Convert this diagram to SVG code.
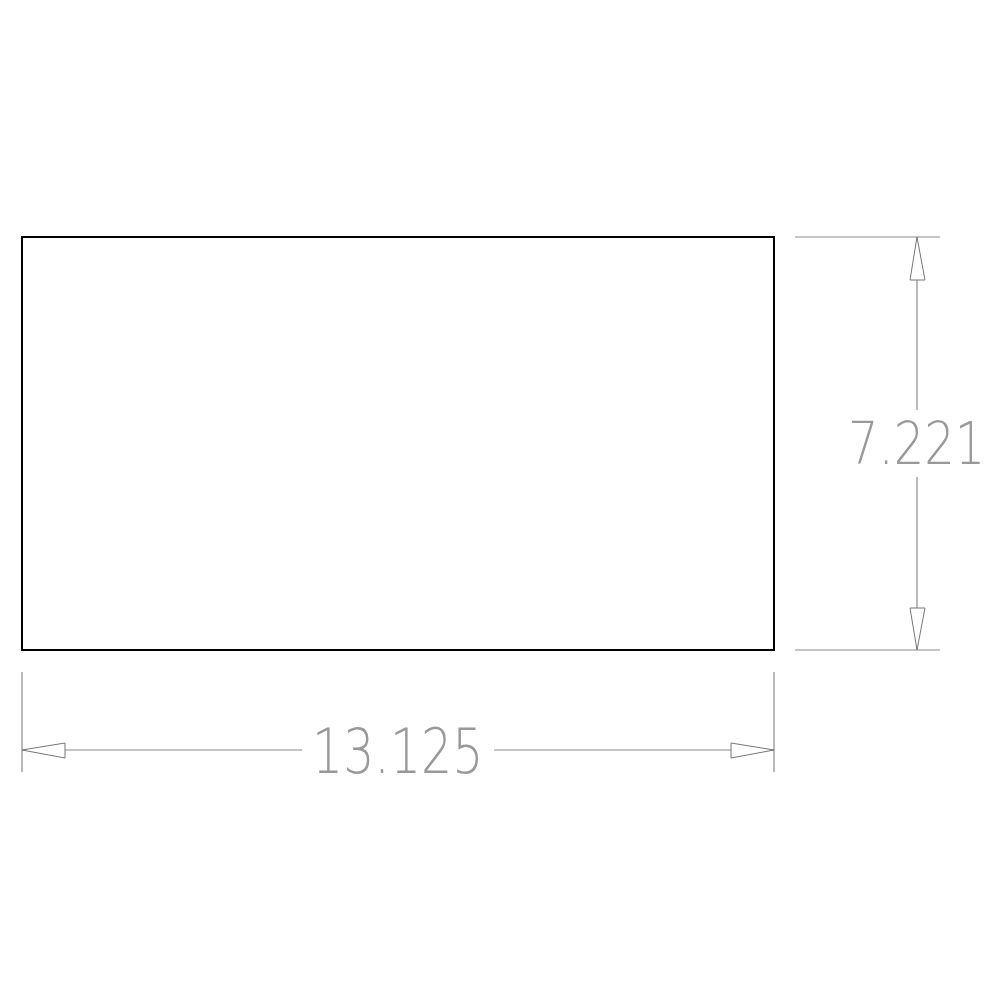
<svg xmlns="http://www.w3.org/2000/svg" width="1000" height="1000" viewBox="0 0 1000 1000">
<style>
.dim{stroke:#8c8c8c;stroke-width:1.2;fill:none}
.arr{stroke:#777;stroke-width:1;fill:#fff}
.lbl{font-family:"DejaVu Sans","Liberation Sans",sans-serif;font-weight:200;fill:#999}
</style>
<rect width="1000" height="1000" fill="#fff"/>
<g id="part"><rect x="22" y="237" width="752" height="413" fill="none" stroke="#000" stroke-width="2"/></g>
<g id="connectors">
<line class="dim" x1="22" y1="672" x2="22" y2="772"/>
<line class="dim" x1="774" y1="672" x2="774" y2="772"/>
<line class="dim" x1="22" y1="750" x2="302" y2="750"/>
<line class="dim" x1="494" y1="750" x2="774" y2="750"/>
<polygon class="arr" points="22,750 65,743 65,758"/>
<polygon class="arr" points="774,750 731,743 731,758"/>
<line class="dim" x1="795" y1="237" x2="940" y2="237"/>
<line class="dim" x1="795" y1="650" x2="940" y2="650"/>
<line class="dim" x1="917" y1="237" x2="917" y2="410"/>
<line class="dim" x1="917" y1="477" x2="917" y2="650"/>
<polygon class="arr" points="917,237 910,280 925,280"/>
<polygon class="arr" points="917,650 910,608 925,608"/>
</g>
<g id="label-width"><text class="lbl" transform="translate(312,773) scale(1,1.265)" x="0" y="0" font-size="49">13.125</text></g>
<g id="label-height"><text class="lbl" transform="translate(848,464) scale(1,1.21)" x="0" y="0" font-size="48">7.221</text></g>
</svg>
